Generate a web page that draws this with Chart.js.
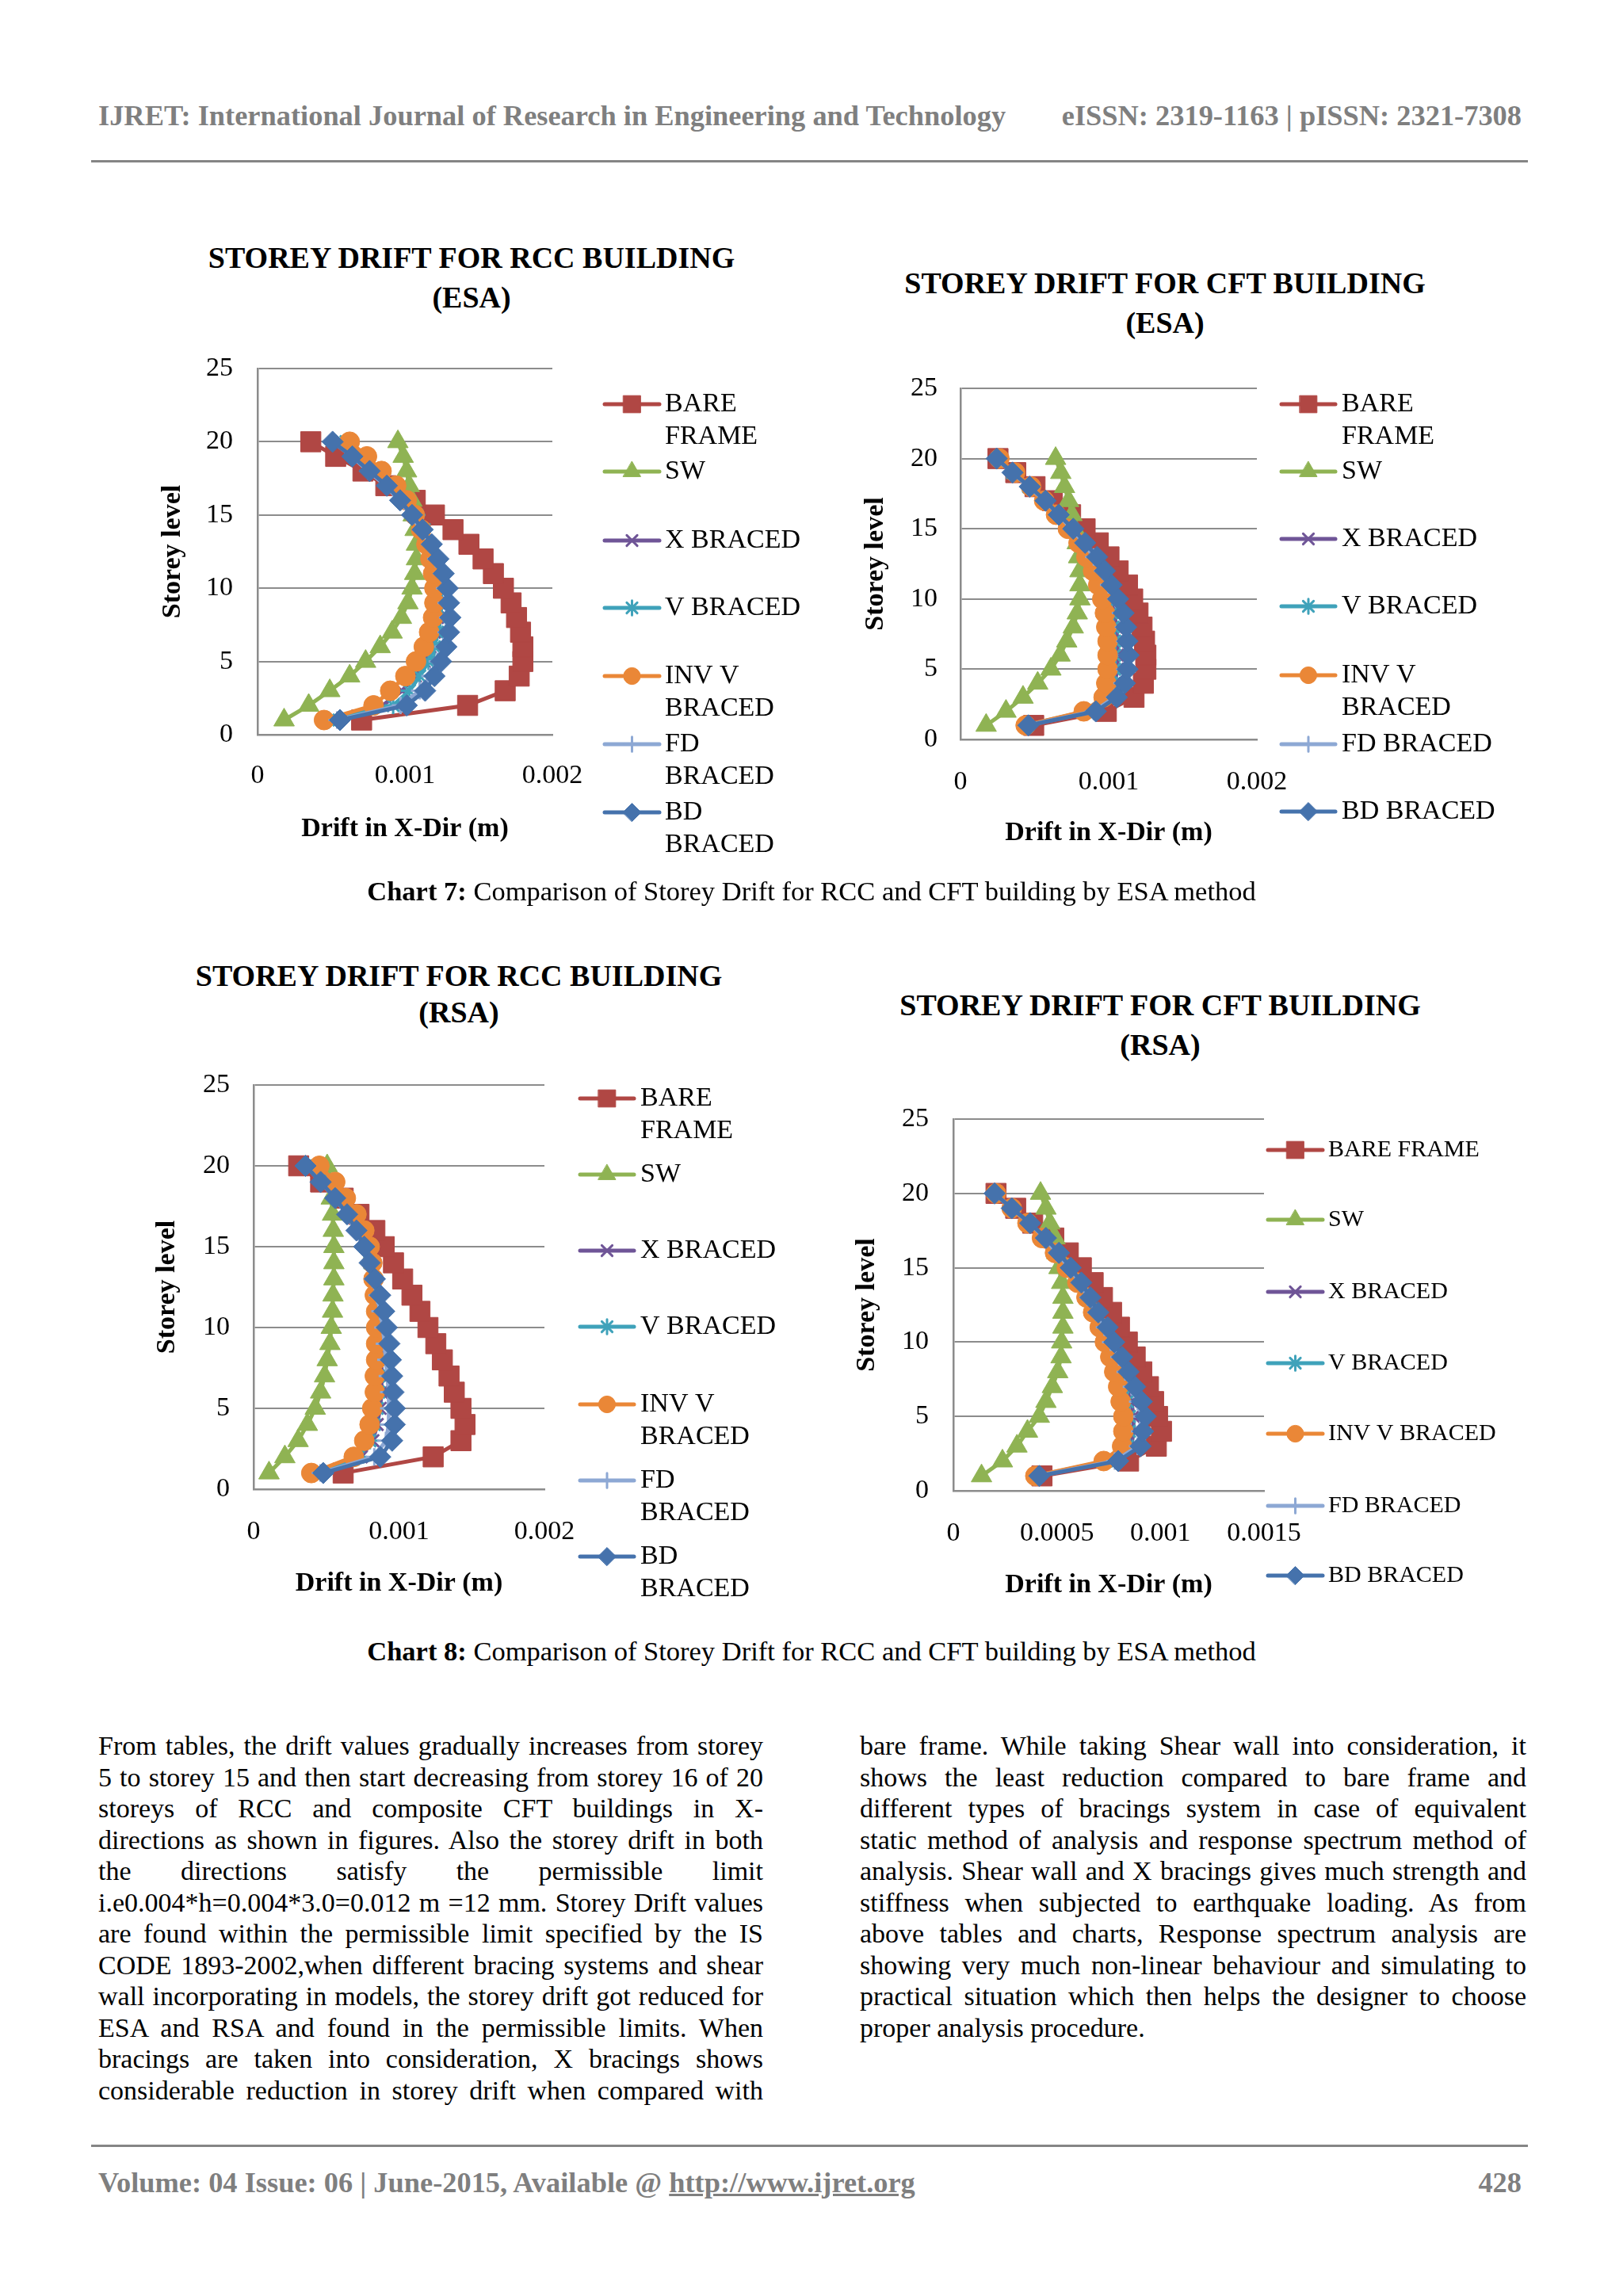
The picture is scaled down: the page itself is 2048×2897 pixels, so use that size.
<!DOCTYPE html>
<html lang="en">
<head>
<meta charset="UTF-8">
<title>IJRET 428 - Storey drift charts</title>
<script src="https://cdn.jsdelivr.net/npm/chart.js"></script>
<style>
  body {
    margin: 0;
    width: 2048px;
    height: 2897px;
    position: relative;
    overflow: hidden;
    background: #fff;
    color: #000;
    font-family: 'Liberation Serif', 'Times New Roman', serif;
  }
  .t { position: absolute; white-space: nowrap; line-height: 40px; height: 40px; }
  .grey { color: #7f7f7f; font-weight: bold; font-size: 36.4px; }
  .title { font-weight: bold; font-size: 38px; line-height: 44px; height: 44px; transform: translateX(-50%); }
  .cap { font-size: 34.5px; transform: translateX(-50%); }
  .rule { position: absolute; left: 115px; width: 1813px; height: 3px; background: #858585; }
  canvas { position: absolute; }
  .col { position: absolute; font-size: 34px; line-height: 39.5px; }
  .col div { height: 39.5px; text-align: justify; text-align-last: justify; }
  .col div.last { text-align-last: left; }
</style>
</head>
<body>
  <div class="t grey" style="left:124px; top:126px;">IJRET: International Journal of Research in Engineering and Technology</div>
  <div class="t grey" style="right:128px; top:126px;">eISSN: 2319-1163 | pISSN: 2321-7308</div>
  <div class="rule" style="top:202px;"></div>

  <div class="t title" style="left:595px; top:303px;">STOREY DRIFT FOR RCC BUILDING</div>
  <div class="t title" style="left:595px; top:353px;">(ESA)</div>
  <div class="t title" style="left:1470px; top:335px;">STOREY DRIFT FOR CFT BUILDING</div>
  <div class="t title" style="left:1470px; top:385px;">(ESA)</div>
  <div class="t title" style="left:579px; top:1209px;">STOREY DRIFT FOR RCC BUILDING</div>
  <div class="t title" style="left:579px; top:1255px;">(RSA)</div>
  <div class="t title" style="left:1464px; top:1246px;">STOREY DRIFT FOR CFT BUILDING</div>
  <div class="t title" style="left:1464px; top:1296px;">(RSA)</div>

  <canvas id="c1"></canvas>
  <canvas id="c2"></canvas>
  <canvas id="c3"></canvas>
  <canvas id="c4"></canvas>

  <div class="t cap" style="left:1024px; top:1104px;"><b>Chart 7:</b> Comparison of Storey Drift for RCC and CFT building by ESA method</div>
  <div class="t cap" style="left:1024px; top:2063px;"><b>Chart 8:</b> Comparison of Storey Drift for RCC and CFT building by ESA method</div>

  <div class="col" style="left:124px; top:2183px; width:839px;">
    <div>From tables, the drift values gradually increases from storey</div>
    <div>5 to storey 15 and then start decreasing from storey 16 of 20</div>
    <div>storeys of RCC and composite CFT buildings in X-</div>
    <div>directions as shown in figures. Also the storey drift in both</div>
    <div>the directions satisfy the permissible limit</div>
    <div>i.e0.004*h=0.004*3.0=0.012 m =12 mm. Storey Drift values</div>
    <div>are found within the permissible limit specified by the IS</div>
    <div>CODE 1893-2002,when different bracing systems and shear</div>
    <div>wall incorporating in models, the storey drift got reduced for</div>
    <div>ESA and RSA and found in the permissible limits. When</div>
    <div>bracings are taken into consideration, X bracings shows</div>
    <div>considerable reduction in storey drift when compared with</div>
  </div>
  <div class="col" style="left:1085px; top:2183px; width:841px;">
    <div>bare frame. While taking Shear wall into consideration, it</div>
    <div>shows the least reduction compared to bare frame and</div>
    <div>different types of bracings system in case of equivalent</div>
    <div>static method of analysis and response spectrum method of</div>
    <div>analysis. Shear wall and X bracings gives much strength and</div>
    <div>stiffness when subjected to earthquake loading. As from</div>
    <div>above tables and charts, Response spectrum analysis are</div>
    <div>showing very much non-linear behaviour and simulating to</div>
    <div>practical situation which then helps the designer to choose</div>
    <div class="last">proper analysis procedure.</div>
  </div>

  <div class="rule" style="top:2706px;"></div>
  <div class="t grey" style="left:124px; top:2734px;">Volume: 04 Issue: 06 | June-2015, Available @ <u>http://www.ijret.org</u></div>
  <div class="t grey" style="right:128px; top:2734px;">428</div>

  <script>
    // storey levels and series (drift in m)
    const storeys = [1, 2, 3, 4, 5, 6, 7, 8, 9, 10, 11, 12, 13, 14, 15, 16, 17, 18, 19, 20];
    const seriesNames = ['BARE FRAME', 'SW', 'X BRACED', 'V BRACED', 'INV V BRACED', 'FD BRACED', 'BD BRACED'];
    const yTicks = ['0', '5', '10', '15', '20', '25'];

    // Chart 7 left: RCC building, ESA
    const rccEsaBare = [0.000706, 0.001425, 0.00168, 0.001775, 0.0018, 0.0018, 0.001784, 0.001757, 0.00172, 0.001668, 0.0016, 0.00153, 0.001434, 0.001326, 0.0012, 0.00107, 0.00087, 0.000715, 0.00053, 0.000361];
    const rccEsaSw = [0.00018, 0.000347, 0.00049, 0.000625, 0.000733, 0.000832, 0.000913, 0.000976, 0.00102, 0.001048, 0.001066, 0.001078, 0.001078, 0.001069, 0.001056, 0.001047, 0.001029, 0.001011, 0.000988, 0.000952];
    const rccEsaX = [0.0005, 0.00085, 0.00098, 0.00107, 0.00113, 0.00117, 0.0012, 0.00122, 0.00123, 0.00122, 0.0012, 0.00118, 0.00115, 0.00111, 0.00106, 0.00099, 0.00091, 0.0008, 0.00069, 0.00057];
    const rccEsaV = [0.00048, 0.00092, 0.00103, 0.0011, 0.00116, 0.0012, 0.00122, 0.00124, 0.00125, 0.00124, 0.00122, 0.0012, 0.00117, 0.00113, 0.00108, 0.00101, 0.00093, 0.00083, 0.00072, 0.0006];
    const rccEsaInv = [0.000451, 0.000787, 0.0009, 0.001003, 0.001075, 0.001128, 0.001164, 0.001191, 0.0012, 0.0012, 0.001191, 0.001173, 0.001146, 0.00111, 0.001066, 0.001012, 0.00094, 0.000841, 0.000742, 0.000625];
    const rccEsaFd = [0.00054, 0.00097, 0.0011, 0.00117, 0.00122, 0.00126, 0.00128, 0.00129, 0.00128, 0.00127, 0.00125, 0.00121, 0.00117, 0.00111, 0.00104, 0.00096, 0.00087, 0.00075, 0.00064, 0.00051];
    const rccEsaBd = [0.000559, 0.001012, 0.001137, 0.0012, 0.001245, 0.001281, 0.001299, 0.001308, 0.001299, 0.00129, 0.001263, 0.001227, 0.001182, 0.00112, 0.001048, 0.000967, 0.000877, 0.00076, 0.000643, 0.000509];

    // Chart 7 right: CFT building, ESA
    const cftEsaBare = [0.000494, 0.000984, 0.001171, 0.001234, 0.001251, 0.001251, 0.001242, 0.001225, 0.001198, 0.001162, 0.001127, 0.001064, 0.001002, 0.00093, 0.000841, 0.000743, 0.00062, 0.000503, 0.000373, 0.000253];
    const cftEsaSw = [0.000173, 0.000307, 0.000422, 0.000521, 0.00061, 0.000672, 0.000717, 0.000761, 0.000788, 0.000806, 0.000806, 0.000806, 0.000797, 0.000788, 0.00077, 0.000752, 0.00073, 0.000702, 0.000677, 0.000642];
    const cftEsaX = [0.00045, 0.00087, 0.00101, 0.00104, 0.00106, 0.00106, 0.00106, 0.00105, 0.00104, 0.00101, 0.00097, 0.00093, 0.00088, 0.00082, 0.00074, 0.00065, 0.00057, 0.00047, 0.00036, 0.00025];
    const cftEsaV = [0.00044, 0.00085, 0.00099, 0.00102, 0.00104, 0.00104, 0.00104, 0.00103, 0.00102, 0.00099, 0.00095, 0.00091, 0.00086, 0.0008, 0.00073, 0.00064, 0.00056, 0.00046, 0.00035, 0.00025];
    const cftEsaInv = [0.00044, 0.000832, 0.000966, 0.000984, 0.000993, 0.000993, 0.000993, 0.000984, 0.000975, 0.000957, 0.00093, 0.000895, 0.00085, 0.000797, 0.000725, 0.000645, 0.000565, 0.000476, 0.000369, 0.000262];
    const cftEsaFd = [0.00045, 0.0009, 0.00104, 0.00109, 0.00111, 0.00112, 0.00111, 0.0011, 0.00108, 0.00105, 0.001, 0.00096, 0.0009, 0.00083, 0.00075, 0.00066, 0.00057, 0.00046, 0.00035, 0.00024];
    const cftEsaBd = [0.000458, 0.000913, 0.001055, 0.001109, 0.001127, 0.001135, 0.001127, 0.001118, 0.0011, 0.001064, 0.00102, 0.000975, 0.000922, 0.000841, 0.000761, 0.000663, 0.000574, 0.000467, 0.000351, 0.000244];

    // Chart 8 left: RCC building, RSA
    const rccRsaBare = [0.000616, 0.001235, 0.001426, 0.001454, 0.001426, 0.00138, 0.001344, 0.001298, 0.001253, 0.001199, 0.001144, 0.001089, 0.001025, 0.000962, 0.000898, 0.000834, 0.000725, 0.000616, 0.000461, 0.00031];
    const rccRsaSw = [0.000106, 0.000215, 0.000306, 0.00037, 0.000424, 0.000461, 0.000488, 0.000506, 0.000525, 0.000534, 0.000543, 0.000546, 0.000552, 0.000552, 0.000552, 0.000548, 0.000543, 0.000534, 0.000525, 0.000506];
    const rccRsaX = [0.00042, 0.00074, 0.00082, 0.00085, 0.00087, 0.00088, 0.00088, 0.00088, 0.00088, 0.00087, 0.00086, 0.00085, 0.00083, 0.00081, 0.00078, 0.00074, 0.00068, 0.00061, 0.00052, 0.00041];
    const rccRsaV = [0.00041, 0.00072, 0.0008, 0.00083, 0.00085, 0.00086, 0.00086, 0.00087, 0.00087, 0.00086, 0.00085, 0.00084, 0.00082, 0.0008, 0.00077, 0.00073, 0.00068, 0.00061, 0.00053, 0.00043];
    const rccRsaInv = [0.000397, 0.000689, 0.000761, 0.000798, 0.000816, 0.000834, 0.000834, 0.000843, 0.000843, 0.000843, 0.000843, 0.000834, 0.000825, 0.000816, 0.000798, 0.000761, 0.000707, 0.000634, 0.000561, 0.000452];
    const rccRsaFd = [0.00046, 0.00083, 0.00091, 0.00093, 0.00093, 0.00093, 0.00092, 0.00091, 0.0009, 0.00089, 0.00087, 0.00085, 0.00082, 0.00079, 0.00075, 0.0007, 0.00064, 0.00056, 0.00046, 0.00036];
    const rccRsaBd = [0.000479, 0.000871, 0.000953, 0.000971, 0.000971, 0.000962, 0.000953, 0.000944, 0.000934, 0.000916, 0.000898, 0.000871, 0.000834, 0.000798, 0.000761, 0.000707, 0.000643, 0.000561, 0.000461, 0.000357];

    // Chart 8 right: CFT building, RSA
    const cftRsaBare = [0.000428, 0.000846, 0.00098, 0.001005, 0.000986, 0.000967, 0.000942, 0.00091, 0.000878, 0.00084, 0.000802, 0.000764, 0.00072, 0.000675, 0.000618, 0.000555, 0.000485, 0.000383, 0.000301, 0.000206];
    const cftRsaSw = [0.000136, 0.000237, 0.000307, 0.000358, 0.000415, 0.000447, 0.000478, 0.000504, 0.00052, 0.000523, 0.000529, 0.000529, 0.000529, 0.000523, 0.00051, 0.0005, 0.000491, 0.000466, 0.000447, 0.000421];
    const cftRsaX = [0.00041, 0.00076, 0.00086, 0.00087, 0.00087, 0.00086, 0.00084, 0.00081, 0.00079, 0.00076, 0.00072, 0.00069, 0.00065, 0.00061, 0.00056, 0.0005, 0.00044, 0.00036, 0.00028, 0.0002];
    const cftRsaV = [0.0004, 0.00074, 0.00084, 0.00085, 0.00085, 0.00084, 0.00082, 0.0008, 0.00077, 0.00075, 0.00071, 0.00068, 0.00064, 0.0006, 0.00055, 0.00049, 0.00043, 0.00036, 0.00028, 0.0002];
    const cftRsaInv = [0.000396, 0.000726, 0.000815, 0.000821, 0.000821, 0.000808, 0.000796, 0.000777, 0.000758, 0.000732, 0.000707, 0.000675, 0.000643, 0.000599, 0.000548, 0.000491, 0.000428, 0.000358, 0.000282, 0.000206];
    const cftRsaFd = [0.00041, 0.00078, 0.00089, 0.0009, 0.00091, 0.00089, 0.00086, 0.00083, 0.0008, 0.00076, 0.00073, 0.00069, 0.00065, 0.00061, 0.00056, 0.0005, 0.00044, 0.00037, 0.00028, 0.0002];
    const cftRsaBd = [0.000415, 0.000796, 0.000904, 0.000916, 0.000929, 0.00091, 0.000878, 0.000846, 0.000815, 0.000777, 0.000745, 0.0007, 0.000662, 0.000618, 0.000567, 0.00051, 0.000447, 0.000371, 0.000282, 0.000199];

    const xTicksA = ['0', '0.001', '0.002'];
    const xTicksB = ['0', '0.0005', '0.001', '0.0015'];

    // excel 2007 style series look
    const colors = ['#B04744', '#8FB353', '#6F5597', '#3FA2BA', '#EA8737', '#8DA8D4', '#4572AC'];
    const styles = ['rect', 'triangle', 'crossRot', 'star', 'circle', 'cross', 'rectRot'];
    const radii = [18, 15, 11, 11, 12.5, 11, 13.5];
    const GRID = '#8c8c8c';
    const FONT = "'Liberation Serif', 'Times New Roman', serif";

    Chart.defaults.font.family = FONT;
    Chart.defaults.color = '#000';

    function drawLegend(chart, lay) {
      const ctx = chart.ctx;
      const lg = lay.legend;
      const ox = lay.cv[0], oy = lay.cv[1];
      chart.data.datasets.forEach((ds, i) => {
        const y = lg.rows[i] - oy;
        const words = ds.label.split(' ');
        const lines = lg.wrap[i] ? [words.slice(0, lg.wrap[i]).join(' '), words.slice(lg.wrap[i]).join(' ')] : [ds.label];
        ctx.save();
        ctx.strokeStyle = ds.borderColor;
        ctx.lineWidth = 5;
        ctx.lineCap = 'round';
        ctx.beginPath();
        ctx.moveTo(lg.x1 - ox, y);
        ctx.lineTo(lg.x2 - ox, y);
        ctx.stroke();
        ctx.fillStyle = ds.pointBackgroundColor;
        ctx.strokeStyle = ds.pointBorderColor;
        ctx.lineWidth = ds.pointBorderWidth;
        if (Chart.helpers && Chart.helpers.drawPoint) {
          Chart.helpers.drawPoint(ctx, {
            pointStyle: ds.pointStyle, radius: ds.pointRadius * 0.85,
            rotation: 0, borderWidth: ds.pointBorderWidth
          }, (lg.x1 + lg.x2) / 2 - ox, y);
        }
        ctx.fillStyle = '#000';
        ctx.font = lg.font + 'px ' + FONT;
        ctx.textAlign = 'left';
        ctx.textBaseline = 'middle';
        lines.forEach((t, k) => ctx.fillText(t, lg.tx - ox, y + k * 41));
        ctx.restore();
      });
    }

    function makeChart(id, lay, series, xMax, xStep, xLabels) {
      const cv = document.getElementById(id);
      const [cl, ct, cw, ch] = lay.cv;
      const [pl, pt, pr, pb] = lay.plot;
      cv.width = cw;
      cv.height = ch;
      cv.style.left = cl + 'px';
      cv.style.top = ct + 'px';
      const half = 34 * 1.2 / 2;
      // box sizes; the loop below nudges them if the plot area lands off target
      const fit = { xh: ct + ch - pb, yw: pl - cl };

      const datasets = seriesNames.map((name, i) => ({
        label: name,
        data: storeys.map((s, k) => ({ x: series[i][k], y: s })),
        showLine: true,
        borderColor: colors[i],
        backgroundColor: colors[i],
        borderWidth: 5,
        pointStyle: styles[i],
        pointRadius: radii[i],
        pointBackgroundColor: colors[i],
        pointBorderColor: colors[i],
        pointBorderWidth: (styles[i].indexOf('cross') === 0 || styles[i] === 'star') ? 3 : 1,
        tension: 0,
        order: seriesNames.length - i
      }));

      const chart = new Chart(cv, {
        type: 'scatter',
        data: { datasets },
        options: {
          responsive: false,
          devicePixelRatio: 1,
          animation: false,
          layout: { autoPadding: false, padding: { left: 0, top: pt - ct, right: cl + cw - pr, bottom: 0 } },
          plugins: { legend: { display: false }, tooltip: { enabled: false } },
          scales: {
            x: {
              type: 'linear', min: 0, max: xMax,
              afterFit: s => { s.height = fit.xh; },
              grid: { display: false, drawTicks: false },
              border: { display: true, color: GRID, width: 2.5 },
              ticks: {
                stepSize: xStep, autoSkip: false, maxRotation: 0,
                padding: lay.xTickY - pb - half,
                font: { size: 34 },
                callback: (v, i) => xLabels[i]
              },
              title: {
                display: true, text: 'Drift in X-Dir (m)',
                font: { size: 34, weight: 'bold' },
                padding: { top: 0, bottom: (ct + ch - lay.xTitleY) - half }
              }
            },
            y: {
              type: 'linear', min: 0, max: 25,
              afterFit: s => { s.width = fit.yw; },
              grid: { color: GRID, lineWidth: 2, drawTicks: false },
              border: { display: true, color: GRID, width: 2.5 },
              ticks: {
                stepSize: 5, padding: pl - lay.yTickRight,
                font: { size: 34 },
                callback: (v, i) => yTicks[i]
              },
              title: {
                display: true, text: 'Storey level',
                font: { size: 34, weight: 'bold' },
                padding: { top: (lay.yTitleX - cl) - half, bottom: 0 }
              }
            }
          }
        },
        plugins: [{ id: 'sideLegend', afterDraw: c => drawLegend(c, lay) }]
      });

      for (let k = 0; k < 3; k++) {
        const a = chart.chartArea;
        const dt = (pt - ct) - a.top;
        const db = (pb - ct) - a.bottom;
        const dl = (pl - cl) - a.left;
        const dr = (pr - cl) - a.right;
        if (Math.abs(dt) + Math.abs(db) + Math.abs(dl) + Math.abs(dr) < 0.5) break;
        const pad = chart.options.layout.padding;
        chart.options.layout.padding = {
          left: pad.left, bottom: pad.bottom,
          top: Math.max(0, pad.top + dt),
          right: Math.max(0, pad.right - dr)
        };
        fit.xh -= db;
        fit.yw += dl;
        chart.update();
      }
      return chart;
    }

    // canvas rect [left, top, w, h] and plot rect [left, top, right, bottom] in page px;
    // canvas top sits ~60px above the plot so the y axis' own label padding fits
    const lay1 = {
      cv: [180, 405, 900, 715], plot: [325, 465, 697, 927],
      yTitleX: 218, xTitleY: 1046, yTickRight: 294, xTickY: 979,
      legend: { x1: 763, x2: 832, tx: 839, font: 34,
        rows: [510, 595, 682, 767, 853, 939, 1025], wrap: [1, 0, 0, 0, 2, 1, 1] }
    };
    const lay2 = {
      cv: [1060, 430, 960, 670], plot: [1212, 490, 1586, 933],
      yTitleX: 1105, xTitleY: 1051, yTickRight: 1183, xTickY: 987,
      legend: { x1: 1617, x2: 1685, tx: 1693, font: 34,
        rows: [510, 595, 680, 765, 852, 939, 1024], wrap: [1, 0, 0, 0, 2, 0, 0] }
    };
    const lay3 = {
      cv: [170, 1309, 900, 731], plot: [320, 1369, 687, 1879],
      yTitleX: 211, xTitleY: 1998, yTickRight: 290, xTickY: 1933,
      legend: { x1: 732, x2: 800, tx: 808, font: 34,
        rows: [1386, 1482, 1578, 1674, 1772, 1868, 1964], wrap: [1, 0, 0, 0, 2, 1, 1] }
    };
    const lay4 = {
      cv: [1060, 1352, 960, 678], plot: [1203, 1412, 1595, 1881],
      yTitleX: 1094, xTitleY: 2000, yTickRight: 1172, xTickY: 1935,
      legend: { x1: 1600, x2: 1669, tx: 1676, font: 30,
        rows: [1451, 1539, 1630, 1720, 1809, 1900, 1988], wrap: [0, 0, 0, 0, 0, 0, 0] }
    };

    makeChart('c1', lay1, [rccEsaBare, rccEsaSw, rccEsaX, rccEsaV, rccEsaInv, rccEsaFd, rccEsaBd], 0.002, 0.001, xTicksA);
    makeChart('c2', lay2, [cftEsaBare, cftEsaSw, cftEsaX, cftEsaV, cftEsaInv, cftEsaFd, cftEsaBd], 0.002, 0.001, xTicksA);
    makeChart('c3', lay3, [rccRsaBare, rccRsaSw, rccRsaX, rccRsaV, rccRsaInv, rccRsaFd, rccRsaBd], 0.002, 0.001, xTicksA);
    makeChart('c4', lay4, [cftRsaBare, cftRsaSw, cftRsaX, cftRsaV, cftRsaInv, cftRsaFd, cftRsaBd], 0.0015, 0.0005, xTicksB);
  </script>
</body>
</html>
